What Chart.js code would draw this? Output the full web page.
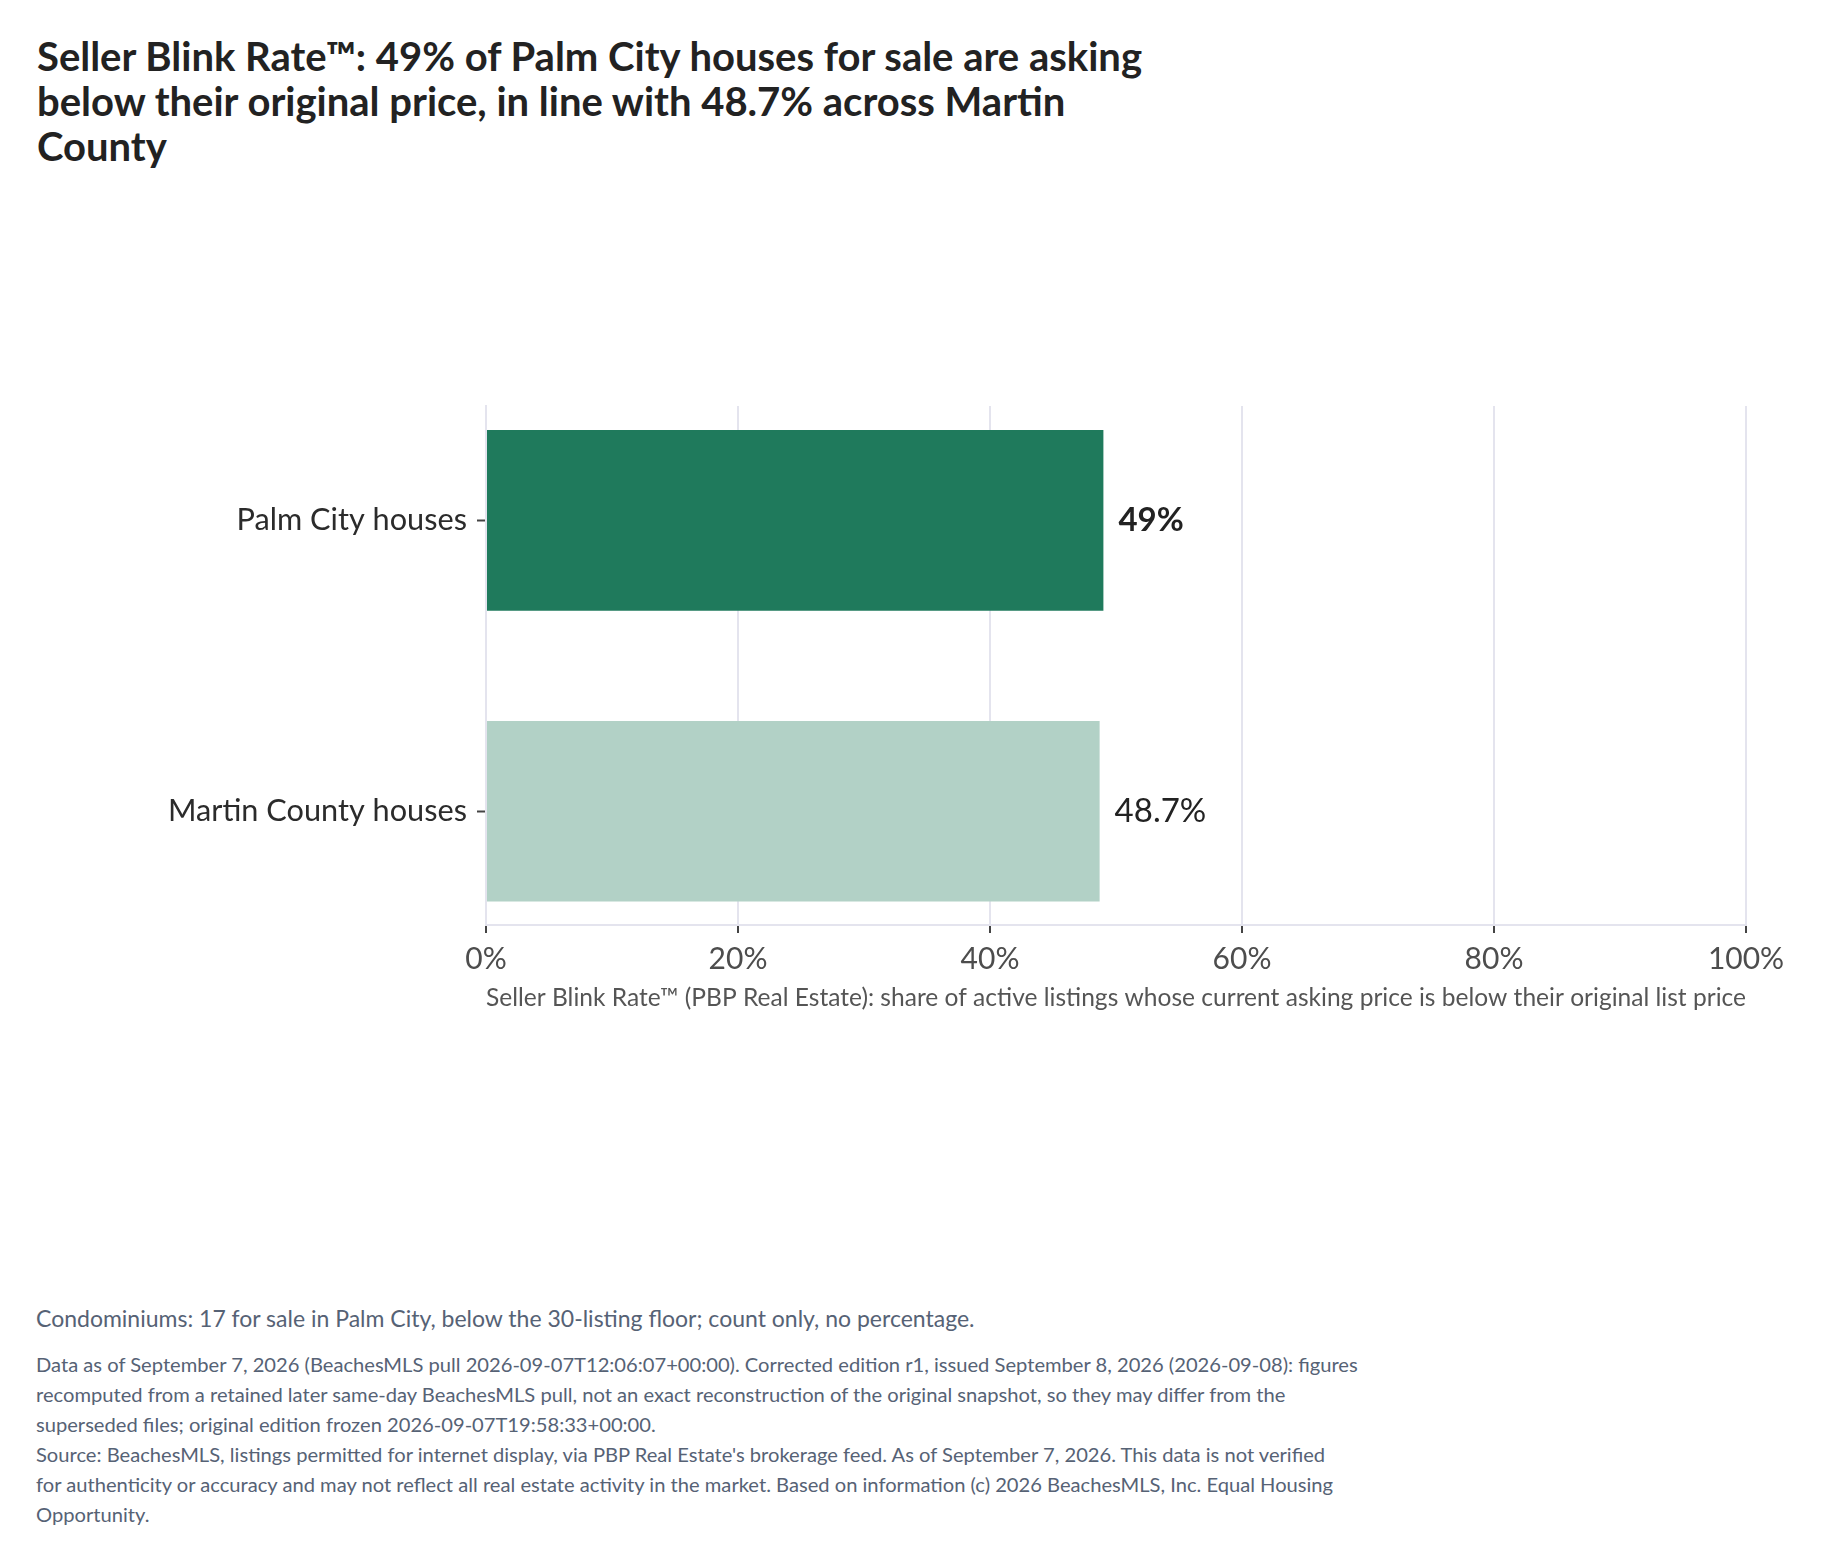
<!DOCTYPE html>
<html>
<head>
<meta charset="utf-8">
<script src="https://cdn.jsdelivr.net/npm/chart.js@4.4.1/dist/chart.umd.min.js"></script>
<style>
  html, body { margin: 0; padding: 0; background: #fff; }
  body { width: 1821px; height: 1566px; position: relative; font-family: Lato, "Noto Sans", sans-serif; }
  .title { position: absolute; left: 37px; top: 34px; font-size: 40px; line-height: 45px; font-weight: 700; color: #222; white-space: nowrap; }
  .condo { position: absolute; left: 36px; top: 1303px; font-size: 23px; line-height: 30px; color: #566275; white-space: nowrap; }
  .notes { position: absolute; left: 36px; top: 1349px; font-size: 20.15px; line-height: 30px; color: #566275; white-space: nowrap; }
  #chart { position: absolute; left: 0; top: 330px; }
</style>
</head>
<body>
<div class="title">Seller Blink Rate™: 49% of Palm City houses for sale are asking<br>below their original price, in line with 48.7% across Martin<br>County</div>
<canvas id="chart" width="1821" height="700"></canvas>
<div class="condo">Condominiums: 17 for sale in Palm City, below the 30-listing floor; count only, no percentage.</div>
<div class="notes">Data as of September 7, 2026 (BeachesMLS pull 2026-09-07T12:06:07+00:00). Corrected edition r1, issued September 8, 2026 (2026-09-08): figures<br>recomputed from a retained later same-day BeachesMLS pull, not an exact reconstruction of the original snapshot, so they may differ from the<br>superseded files; original edition frozen 2026-09-07T19:58:33+00:00.<br>Source: BeachesMLS, listings permitted for internet display, via PBP Real Estate's brokerage feed. As of September 7, 2026. This data is not verified<br>for authenticity or accuracy and may not reflect all real estate activity in the market. Based on information (c) 2026 BeachesMLS, Inc. Equal Housing<br>Opportunity.</div>
<script>
const categories = ['Palm City houses', 'Martin County houses'];
const blinkRate = [49, 48.7];
const barColors = ['#1f7a5c', '#b2d1c6'];
const xTicks = [0, 20, 40, 60, 80, 100];
const axisTitle = 'Seller Blink Rate™ (PBP Real Estate): share of active listings whose current asking price is below their original list price';

const GRID = '#e4e4ee';

// value labels at the end of each bar; the first (Palm City) one in bold
const valueLabels = {
  id: 'valueLabels',
  afterDatasetsDraw(chart) {
    const ctx = chart.ctx;
    const meta = chart.getDatasetMeta(0);
    ctx.save();
    ctx.textAlign = 'left';
    ctx.textBaseline = 'middle';
    ctx.fillStyle = '#222';
    meta.data.forEach((bar, i) => {
      ctx.font = (i === 0 ? '700 ' : '400 ') + '33px Lato';
      ctx.fillText(blinkRate[i] + '%', bar.x + 15, bar.y);
    });
    ctx.restore();
  }
};

new Chart(document.getElementById('chart'), {
  type: 'bar',
  data: {
    datasets: [{
      data: blinkRate.map((v, i) => ({ x: v, y: i })),
      backgroundColor: barColors,
      borderWidth: 0,
      categoryPercentage: 1,
      barPercentage: 0.621
    }]
  },
  options: {
    indexAxis: 'y',
    responsive: false,
    animation: false,
    devicePixelRatio: 1,
    layout: { padding: { top: 76, right: 75, left: 0, bottom: 0 } },
    plugins: { legend: { display: false }, tooltip: { enabled: false } },
    scales: {
      x: {
        type: 'linear',
        min: 0,
        max: 100,
        afterBuildTicks: axis => { axis.ticks = xTicks.map(v => ({ value: v })); },
        afterFit: scale => { scale.height = 105; },
        ticks: {
          callback: v => v + '%',
          font: { family: 'Lato', size: 30 },
          color: '#4d4d4d',
          padding: 8
        },
        grid: { color: GRID, lineWidth: 2, tickColor: '#444', tickLength: 8, tickWidth: 2 },
        border: { color: GRID, width: 2 },
        title: {
          display: true,
          text: axisTitle,
          font: { family: 'Lato', size: 25.2 },
          color: '#555',
          padding: { top: 0, bottom: 17 }
        }
      },
      y: {
        type: 'linear',
        reverse: true,
        offset: false,
        min: -0.393,
        max: 1.391,
        afterBuildTicks: axis => { axis.ticks = categories.map((c, i) => ({ value: i })); },
        afterFit: scale => { scale.width = 486; },
        ticks: {
          callback: v => categories[v],
          font: { family: 'Lato', size: 30.7 },
          color: '#2b2b2b',
          padding: 10
        },
        grid: { offset: false, drawOnChartArea: false, tickColor: '#444', tickLength: 9, tickWidth: 2 },
        border: { color: GRID, width: 2 }
      }
    }
  },
  plugins: [valueLabels]
});
</script>
</body>
</html>
